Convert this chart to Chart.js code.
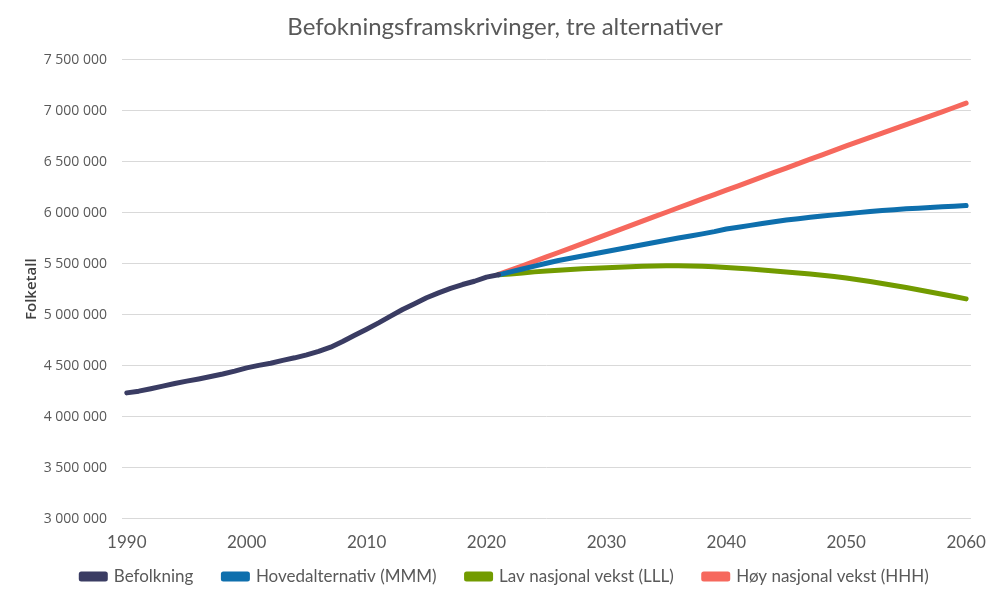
<!DOCTYPE html>
<html>
<head>
<meta charset="utf-8">
<title>Befokningsframskrivinger</title>
<script src="https://cdn.jsdelivr.net/npm/chart.js@4/dist/chart.umd.min.js"></script>
<style>
  html, body { margin: 0; padding: 0; background: #fff; }
  #wrap { width: 1000px; height: 600px; position: relative; }
</style>
</head>
<body>
<div id="wrap"><canvas id="chart"></canvas></div>
<script>
// ── Data ──
const histYears = [1990, 1991, 1992, 1993, 1994, 1995, 1996, 1997, 1998, 1999,
  2000, 2001, 2002, 2003, 2004, 2005, 2006, 2007, 2008, 2009,
  2010, 2011, 2012, 2013, 2014, 2015, 2016, 2017, 2018, 2019, 2020, 2021];
const befolkning = [4233000, 4250000, 4274000, 4299000, 4325000, 4348000, 4370000, 4393000, 4418000, 4446000,
  4478000, 4503000, 4524000, 4552000, 4577000, 4606000, 4640000, 4681000, 4737000, 4799000,
  4858000, 4920000, 4986000, 5051000, 5108000, 5166000, 5214000, 5258000, 5296000, 5328000, 5368000, 5391000];

const projYears = [2021, 2022, 2023, 2024, 2025, 2026, 2027, 2028, 2029, 2030,
  2031, 2032, 2033, 2034, 2035, 2036, 2037, 2038, 2039, 2040,
  2041, 2042, 2043, 2044, 2045, 2046, 2047, 2048, 2049, 2050,
  2051, 2052, 2053, 2054, 2055, 2056, 2057, 2058, 2059, 2060];
const mmm = [5391000, 5420000, 5448000, 5477000, 5505000, 5531000, 5553000, 5576000, 5598000, 5620000,
  5642000, 5664000, 5686000, 5708000, 5730000, 5752000, 5772000, 5793000, 5815000, 5840000,
  5858000, 5876000, 5894000, 5911000, 5928000, 5942000, 5955000, 5967000, 5979000, 5990000,
  6001000, 6011000, 6021000, 6030000, 6038000, 6045000, 6052000, 6058000, 6064000, 6070000];
const lll = [5391000, 5400000, 5410000, 5420000, 5428000, 5436000, 5443000, 5450000, 5456000, 5461000,
  5466000, 5470000, 5474000, 5477000, 5480000, 5479000, 5477000, 5474000, 5470000, 5463000,
  5455000, 5447000, 5438000, 5429000, 5419000, 5409000, 5398000, 5386000, 5374000, 5360000,
  5343000, 5325000, 5306000, 5286000, 5266000, 5245000, 5223000, 5201000, 5178000, 5155000];
const hhh = [5395000, 5437000, 5480000, 5523000, 5567000, 5610000, 5653000, 5697000, 5741000, 5785000,
  5829000, 5873000, 5917000, 5961000, 6005000, 6049000, 6092000, 6135000, 6178000, 6221000,
  6264000, 6308000, 6351000, 6395000, 6438000, 6482000, 6525000, 6568000, 6612000, 6655000,
  6697000, 6739000, 6781000, 6823000, 6865000, 6906000, 6948000, 6990000, 7032000, 7075000];

const xTicks = [1990, 2000, 2010, 2020, 2030, 2040, 2050, 2060];
const seriesNames = ['Befolkning', 'Hovedalternativ (MMM)', 'Lav nasjonal vekst (LLL)', 'Høy nasjonal vekst (HHH)'];
const seriesColors = ['#3a3c63', '#0e6fad', '#729b00', '#f6685d'];

function points(years, values) {
  return years.map(function(y, i) { return { x: y, y: values[i] }; });
}

function fmt(v) {
  return String(v).replace(/\B(?=(\d{3})+(?!\d))/g, ' ');
}

function line(idx, years, values) {
  return {
    label: seriesNames[idx],
    data: points(years, values),
    borderColor: seriesColors[idx],
    backgroundColor: seriesColors[idx],
    borderWidth: 5,
    borderCapStyle: 'round',
    borderJoinStyle: 'round',
    pointRadius: 0,
    tension: 0,
    fill: false
  };
}

// legend keeps wide gaps between items but is drawn higher than its padding would put it
const legendLift = {
  id: 'legendLift',
  beforeLayout: function(chart) {
    const lg = chart.legend;
    if (!lg || lg._lifted) return;
    const orig = lg.draw;
    lg.draw = function() {
      const top = this.top;
      this.top = top - 29;
      orig.apply(this, arguments);
      this.top = top;
    };
    lg._lifted = true;
  }
};

// ── Chart ──
new Chart(document.getElementById('chart'), {
  type: 'line',
  data: {
    datasets: [
      line(0, histYears, befolkning),
      line(1, projYears, mmm),
      line(2, projYears, lll),
      line(3, projYears, hhh)
    ]
  },
  plugins: [legendLift],
  options: {
    responsive: true,
    maintainAspectRatio: false,
    animation: false,
    layout: { padding: { left: 37, right: 27, top: 0, bottom: 0 } },
    plugins: {
      title: {
        display: true,
        text: 'Befokningsframskrivinger, tre alternativer',
        color: '#595959',
        font: { family: 'Lato', size: 24, weight: 'normal' },
        padding: { top: 13, bottom: 18 }
      },
      legend: {
        position: 'bottom',
        maxHeight: 33,
        labels: {
          color: '#595959',
          font: { family: 'Lato', size: 17 },
          boxWidth: 24,
          boxHeight: 5,
          padding: 30
        }
      },
      tooltip: { enabled: false }
    },
    scales: {
      x: {
        type: 'linear',
        min: 1989.6,
        max: 2060.4,
        afterBuildTicks: function(scale) {
          scale.ticks = xTicks.map(function(v) { return { value: v }; });
        },
        grid: { display: false, drawTicks: false },
        border: { display: false },
        ticks: {
          color: '#595959',
          font: { family: 'Lato', size: 17 },
          padding: 14,
          maxRotation: 0,
          callback: function(v) { return String(v); }
        }
      },
      y: {
        min: 3000000,
        max: 7500000,
        afterFit: function(scale) { scale.width = 85; },
        grid: { color: '#d9d9d9', lineWidth: 1, drawTicks: false },
        border: { display: false },
        ticks: {
          stepSize: 500000,
          color: '#595959',
          font: { family: 'Open Sans', size: 14 },
          padding: 15,
          callback: function(v) { return fmt(v); }
        },
        title: {
          display: true,
          text: 'Folketall',
          color: '#404040',
          font: { family: 'Open Sans', size: 15, weight: '600' },
          padding: { top: -14, bottom: 0 }
        }
      }
    }
  }
});
</script>
</body>
</html>
